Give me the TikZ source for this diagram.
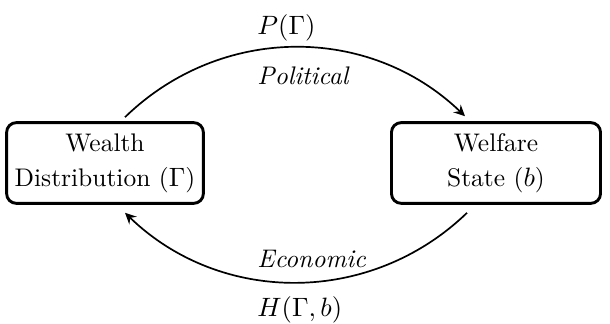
\documentclass[tikz,border=0pt]{standalone}
\usepackage{amsmath}
\usepackage{tikz}
\usetikzlibrary{arrows.meta, positioning, shapes}
\tikzstyle{sector} = [rectangle, rounded corners=4pt, minimum height=1.17cm, align=center, draw=black, line width=1.2pt, font=\fontsize{10.5}{14.5}\selectfont]
\tikzstyle{arrow} = [line width=0.7pt,-{Stealth[length=4.6pt,width=4.4pt,inset=1.6pt]}]
\tikzstyle{channel} = [anchor=west, inner sep=0pt, font=\fontsize{10.5}{13}\selectfont]

\begin{document}
\begin{tikzpicture}[x=0.0145cm, y=-0.0145cm]
        \useasboundingbox (0,0) rectangle (610,324);
        \node (wealth) [sector, minimum width=2.75cm] at (105,163) {Wealth\\Distribution ($\Gamma$)};
        \node (welfare) [sector, minimum width=3.03cm] at (496,163) {Welfare\\State ($b$)};
        \node (ptext) [channel] at (257,28) {$P(\Gamma)$};
        \node (political) [channel] at (257,76) {\textit{Political}};
        \node (economic) [channel] at (257,259) {\textit{Economic}};
        \node (htext) [channel] at (257,310) {$H(\Gamma, b)$};

        \draw [arrow] ([shift={(20,-4)}]wealth.north) to[bend left=44] ([shift={(-31,-5)}]welfare.north);
        \draw [arrow] ([shift={(-29,8)}]welfare.south) to[bend left=44] ([shift={(20,8)}]wealth.south);

        \end{tikzpicture}
\end{document}
